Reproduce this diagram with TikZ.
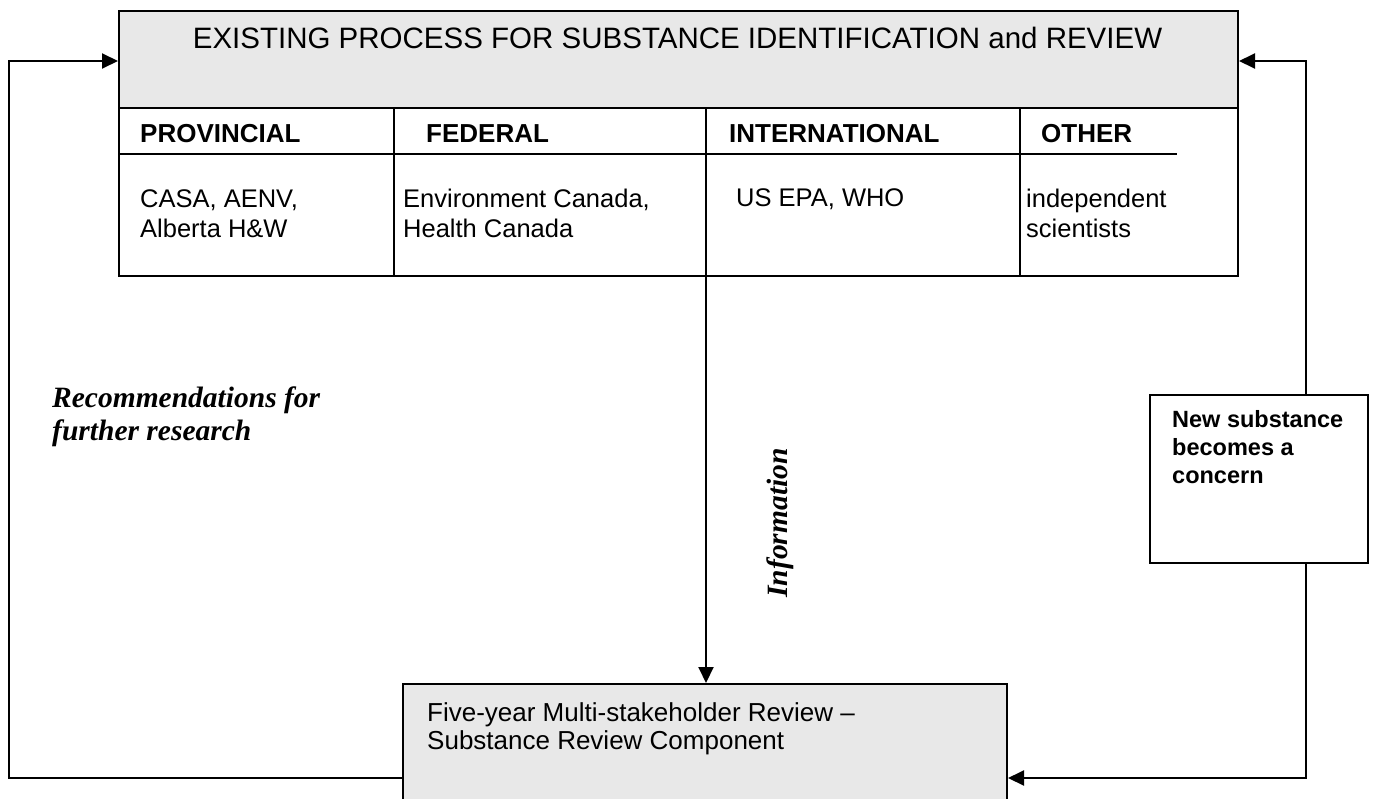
\documentclass[tikz,border=0pt]{standalone}
\usepackage{fontspec}
\setmainfont{Liberation Sans}
\newfontfamily\timesfont{Liberation Serif}
\usetikzlibrary{arrows.meta}

\definecolor{boxgray}{RGB}{232,232,232}

\begin{document}
\begin{tikzpicture}[x=1pt,y=-1pt,
  tip/.tip={Triangle[length=16pt,width=15pt]},
  flow/.style={line width=2pt,-tip},
  rule/.style={line width=2pt},
  box/.style={draw,line width=2pt,anchor=north west,inner sep=0pt},
  txt/.style={anchor=base west,inner sep=0pt,align=left,font=\fontsize{25.5}{30}\selectfont},
  hdr/.style={txt,font=\fontsize{26}{30}\selectfont\bfseries},
  note/.style={inner sep=0pt,align=left,font=\fontsize{29.5}{33}\selectfont\timesfont\bfseries\itshape}]
\useasboundingbox (0,0) rectangle (1373,798);

% loop corners
\coordinate (upL) at (9,61);
\coordinate (lowL) at (9,778);
\coordinate (upR) at (1306,61);
\coordinate (lowR) at (1306,778);

% existing process table
\node[box,fill=boxgray,minimum width=1119pt,minimum height=97pt] (Head) at (118,10) {};
\node[box,minimum width=1119pt,minimum height=168pt] (Body) at (118,107) {};
\node[anchor=base,inner sep=0pt,font=\fontsize{29.5}{34}\selectfont] (Title) at (677.5,48)
  {EXISTING PROCESS FOR SUBSTANCE IDENTIFICATION and REVIEW};

\coordinate (dA) at (394,107);
\coordinate (dB) at (706,107);
\coordinate (dC) at (1020,107);
\coordinate (rowEnd) at (1177,154);
\foreach \d in {dA,dB,dC}
  \draw[rule] (\d) -- (\d |- Body.south);
\draw[rule] (rowEnd -| Body.west) -- (rowEnd);

\node[hdr] (Prov) at (140,142) {PROVINCIAL};
\node[hdr] (Fed) at (426,142) {FEDERAL};
\node[hdr] (Intl) at (729,142) {INTERNATIONAL};
\node[hdr] (Other) at (1041,142) {OTHER};

% multi-line texts sit on their last line
\node[txt] (ProvList) at (140,237) {CASA, AENV,\\Alberta H\&W};
\node[txt] (FedList) at (403,237) {Environment Canada,\\Health Canada};
\node[txt] (IntlList) at (736,206) {US EPA, WHO};
\node[txt] (OtherList) at (1026,237) {independent\\scientists};

% review box
\node[box,fill=boxgray,minimum width=604pt,minimum height=140pt] (Review) at (402,683) {};
\node[txt,font=\fontsize{26}{28}\selectfont] (ReviewText) at (427,749)
  {Five-year Multi-stakeholder Review --\\Substance Review Component};

% information flow
\draw[flow] (dB |- Body.south) -- (dB |- Review.north);
\node[note,rotate=90] (Info) at (780,523) {Information};

% recommendations loop
\draw[flow] (lowL -| Review.west) -- (lowL) -- (upL) -- (upL -| Head.west);
\node[note,anchor=base west] (Recs) at (52,440) {Recommendations for\\further research};

% new substance loop
\draw[line width=2pt,tip-tip]
  (upR -| Head.east) -- (upR) -- (lowR) -- (lowR -| Review.east);
\node[box,fill=white,minimum width=218pt,minimum height=168pt] (Concern) at (1149,394) {};
\node[txt,font=\fontsize{23.5}{28}\selectfont\bfseries] (ConcernText) at (1172,483)
  {New substance\\becomes a\\concern};
\end{tikzpicture}
\end{document}
